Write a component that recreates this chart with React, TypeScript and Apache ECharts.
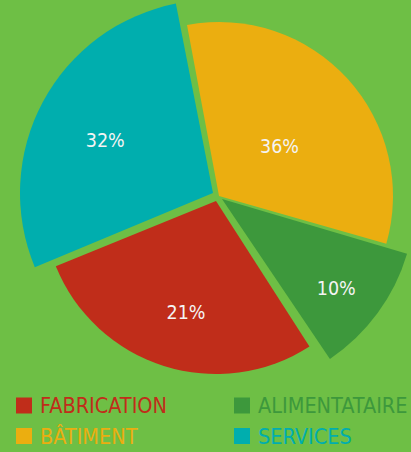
import React, { useEffect, useRef } from 'react';
import * as echarts from 'echarts';

// ---- data ----
const categories = ['FABRICATION', 'ALIMENTATAIRE', 'BÂTIMENT', 'SERVICES'];
const percentLabels = [21, 10, 36, 32];
// slice geometry as drawn: start angle (deg, clockwise from 12 o'clock) and angular span
const sliceStartDeg = [147.3, 106.5, -10.6, 247.4];
const sliceSpanDeg = [100.5, 39.5, 116.5, 101.5];
const legendLeftColumn = ['FABRICATION', 'BÂTIMENT'];
const legendRightColumn = ['ALIMENTATAIRE', 'SERVICES'];

// ---- styles / layout ----
const colors = ['#c02d1a', '#3d983c', '#ebae10', '#00aeae'];
const background = '#6ebf45';
const font = '"DejaVu Sans Condensed", "Liberation Sans Narrow", sans-serif';
const sliceLayout = [
  { center: [216, 201], radius: 173, labelShift: [-3, 26] },
  { center: [222, 199], radius: 193, labelShift: [34, 31] },
  { center: [219, 196], radius: 174, labelShift: [-6, 11] },
  { center: [213, 193], radius: 193, labelShift: [-20, -6] },
];

export default function App() {
  const ref = useRef<HTMLDivElement>(null);
  useEffect(() => {
    if (!ref.current) return;
    const chart = echarts.init(ref.current, null, { renderer: 'svg' });
    const series = categories.map((name, i) => ({
      type: 'pie',
      name: 'slice' + i,
      center: sliceLayout[i].center,
      radius: [0, sliceLayout[i].radius],
      startAngle: 90 - sliceStartDeg[i],
      clockwise: true,
      avoidLabelOverlap: false,
      silent: true,
      emphasis: { disabled: true },
      label: {
        show: true,
        position: 'inside',
        color: '#f4f4f4',
        fontFamily: font,
        fontSize: 19.5,
        formatter: (p: any) => (p.dataIndex === 0 ? percentLabels[i] + '%' : ''),
      },
      labelLine: { show: false },
      labelLayout: { dx: sliceLayout[i].labelShift[0], dy: sliceLayout[i].labelShift[1] },
      data: [
        { name, value: sliceSpanDeg[i], itemStyle: { color: colors[i] } },
        {
          name: '_rest' + i,
          value: 360 - sliceSpanDeg[i],
          itemStyle: { color: 'rgba(0,0,0,0)' },
          label: { show: false },
        },
      ],
    }));
    const legendItem = (n: string) => ({
      name: n,
      itemStyle: { color: colors[categories.indexOf(n)] },
      textStyle: { color: colors[categories.indexOf(n)] },
    });
    const legendBase = {
      orient: 'vertical',
      top: 394,
      height: 80,
      padding: 0,
      icon: 'rect',
      itemWidth: 16,
      itemHeight: 16,
      itemGap: 7.5,
      selectedMode: false,
      textStyle: {
        fontFamily: font,
        fontSize: 21.5,
        lineHeight: 23,
        padding: [0, 0, 0, 3],
      },
    };
    chart.setOption({
      animation: false,
      backgroundColor: background,
      legend: [
        { ...legendBase, left: 16, data: legendLeftColumn.map(legendItem) },
        { ...legendBase, left: 234, data: legendRightColumn.map(legendItem) },
      ],
      series,
    });
    return () => chart.dispose();
  }, []);
  return (
    <div
      ref={ref}
      style={{ position: 'fixed', left: 0, top: 0, width: 411, height: 452 }}
    />
  );
}
